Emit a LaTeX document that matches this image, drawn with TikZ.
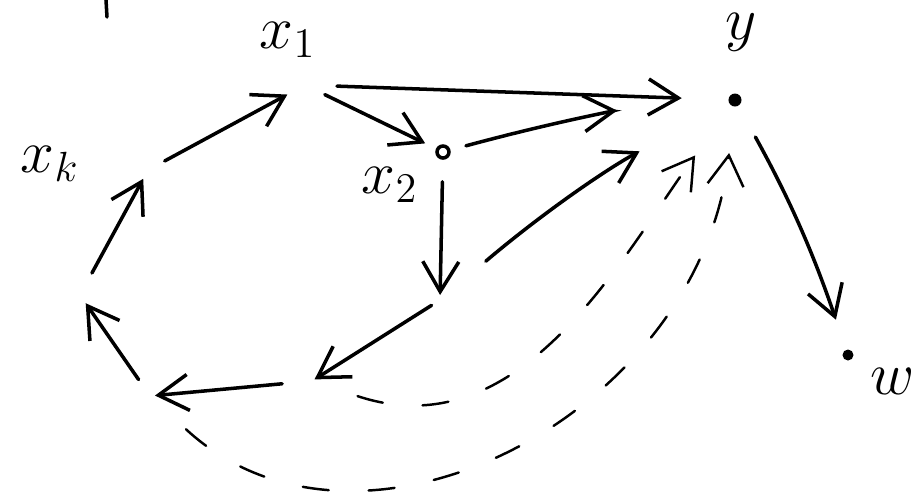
\documentclass[tikz,border=0pt]{standalone}
\usepackage{tikz}
\usetikzlibrary{arrows.meta}

\begin{document}
\begin{tikzpicture}[x=0.01cm,y=-0.01cm,line width=1pt,line cap=round,
  >={Straight Barb[length=3mm,width=3.6mm]},
  dot/.style={circle,fill,inner sep=0pt,minimum size=1.3mm},
  lbl/.style={font=\LARGE,inner sep=1pt},
  dashline/.style={->,line width=0.7pt,dash pattern=on 2.6mm off 4mm}]
\useasboundingbox (0,0) rectangle (917,493);
\coordinate (x1) at (305,85);
\node[dot] (y) at (735,100) {};
\node[dot,minimum size=1.1mm] (w) at (848,355) {};
\node[circle,draw,inner sep=0pt,minimum size=1.2mm] (x2) at (443,152) {};
\coordinate (xk) at (148,170);
\coordinate (a) at (440,300);
\coordinate (b) at (312,381);
\coordinate (c) at (150,396);
\coordinate (d) at (80,295);
\node[lbl] (x1lab) at (288,40) {$x_1$};
\node[lbl] (ylab) at (741,32) {$y$};
\node[lbl] (xklab) at (50,164) {$x_k$};
\node[lbl] (x2lab) at (390,185) {$x_2$};
\node[lbl] (wlab) at (893,381) {$w$};
\draw (106,0) -- (107,17);
\draw[->,shorten <=3.2mm,shorten >=4.5mm] (x1) -- (y);
\draw[->,shorten <=2.2mm,shorten >=1.2mm] (x1) -- (x2);
\draw[->,shorten <=1.6mm,shorten >=11mm] (x2) to[bend left=5] (y);
\draw[->,shorten <=2.2mm,shorten >=0.5mm] (x2) -- (a);
\draw[->,shorten <=1mm,shorten >=0.3mm] (a) -- (b);
\draw[->,shorten <=3mm,shorten >=0.5mm] (b) -- (c);
\draw[->,shorten <=2mm,shorten >=1mm] (c) -- (d);
\draw[->,shorten <=2.5mm,shorten >=1mm] (d) -- (xk);
\draw[->,shorten <=1.9mm,shorten >=2mm] (xk) -- (x1);
\draw[->,shorten <=6mm,shorten >=10mm] (a) to[bend left=6] (y);
\draw[->,shorten <=3.4mm,shorten >=3mm] (y) to[bend left=5] (w);
\draw[dashline,shorten <=4.8mm,shorten >=6mm] (b) .. controls (520,450) and (620,260) .. (y);
\draw[dashline,shorten <=4.9mm,shorten >=4.5mm] (c) .. controls (360,590) and (700,415) .. (y);
\end{tikzpicture}
\end{document}
